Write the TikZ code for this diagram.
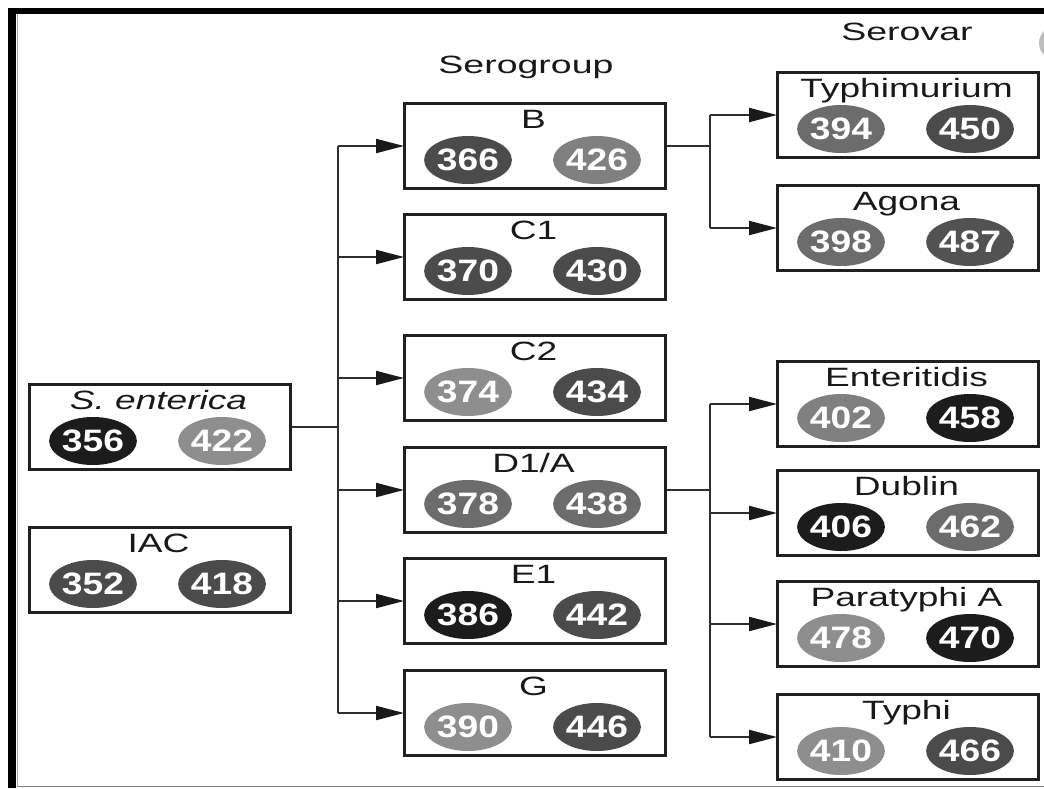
\documentclass[tikz,border=0pt]{standalone}
\usepackage{fontspec}
\setmainfont{Liberation Sans}
\newfontfamily\lblfont[FakeStretch=1.4]{Liberation Sans}
\newfontfamily\hdrfont[FakeStretch=1.5]{Liberation Sans}
\newfontfamily\numfont[FakeStretch=1.2]{Liberation Sans}
\usetikzlibrary{arrows.meta,shapes.geometric}
\definecolor{cA}{HTML}{1C1C1C}
\definecolor{cB}{HTML}{4B4B4B}
\definecolor{cC}{HTML}{6C6C6C}
\definecolor{cD}{HTML}{8E8E8E}
\definecolor{edge}{HTML}{202020}
\definecolor{wire}{HTML}{2E2E2E}
\tikzset{
  boxst/.style={draw=edge, line width=3pt, minimum width=261pt, minimum height=85pt, inner sep=0pt, anchor=north west},
  lbl/.style={font=\lblfont\fontsize{26.5}{27}\selectfont, text=black!90, anchor=base, inner sep=0pt},
  hdr/.style={font=\hdrfont\fontsize{25}{26}\selectfont, text=black!90, anchor=base, inner sep=0pt},
  blob/.style={ellipse, fill=#1, minimum width=75pt, minimum height=48pt, inner sep=0pt, text=white,
    font=\numfont\bfseries\fontsize{31}{31}\selectfont},
  conn/.style={draw=wire, line width=2pt},
  arr/.style={conn, -{Triangle[length=28pt,width=14pt,fill=black!90,color=black!90]}, shorten >=-1pt}
}
\newcommand\gbox[8]{%
  \node[boxst] (#1) at (#2,#3) {};
  \node[lbl] (#1-l) at ({#2+130.5},{#3+26}) {#4};
  \node[blob=#6] (#1-a) at ({#2+65},{#3+58}) {#5};
  \node[blob=#8] (#1-b) at ({#2+194},{#3+58}) {#7};
}
\begin{document}
\begin{tikzpicture}[x=1pt,y=-1pt]
\useasboundingbox (0,0) rectangle (1044,788);
\fill[white] (0,0) rectangle (1044,788);
% frame
\fill[black] (8,8) rectangle (16,788);
\fill[black] (8,8) rectangle (1044,13.5);
\draw[gray!70, line width=1pt] (17,14) -- (17,786);
\draw[gray, line width=1pt] (17,786.5) -- (1044,786.5);
\begin{scope}
\clip (0,0) rectangle (1044,788);
\fill[gray!50] (1056,43) circle (17);
\end{scope}
% headers
\node[hdr] (hsg) at (526,73) {Serogroup};
\node[hdr] (hsv) at (907,40) {Serovar};
% left boxes
\gbox{sent}{28}{383}{\itshape S. enterica}{356}{cA}{422}{cD}
\gbox{iac}{28}{526}{IAC}{352}{cB}{418}{cB}
% serogroups
\gbox{B}{403}{102}{B}{366}{cB}{426}{cD!90!black}
\gbox{C1}{403}{213}{C1}{370}{cB}{430}{cB}
\gbox{C2}{403}{334}{C2}{374}{cD}{434}{cB}
\gbox{D}{403}{446}{D1/A}{378}{cC}{438}{cC}
\gbox{E1}{403}{557}{E1}{386}{cA}{442}{cB}
\gbox{G}{403}{669}{G}{390}{cD}{446}{cB}
% serovars
\gbox{Ty}{776}{71}{Typhimurium}{394}{cC}{450}{cB}
\gbox{Ag}{776}{184}{Agona}{398}{cC}{487}{cB!80!cC}
\gbox{En}{776}{360}{Enteritidis}{402}{cD!90!black}{458}{cA}
\gbox{Du}{776}{469}{Dublin}{406}{cA}{462}{cC}
\gbox{Pa}{776}{580}{Paratyphi A}{478}{cD}{470}{cA}
\gbox{Tp}{776}{693}{Typhi}{410}{cD}{466}{cB}
% connectors
\coordinate (t1) at (338,0);
\coordinate (t2) at (710,0);
\draw[conn] (sent.east) -- (sent.east -| t1);
\draw[conn] (t1 |- B.west) -- (t1 |- G.west);
\foreach \n in {B,C1,C2,D,E1,G} \draw[arr] (t1 |- \n.west) -- (\n.west);
\draw[conn] (B.east) -- (B.east -| t2);
\draw[conn] (t2 |- Ty.west) -- (t2 |- Ag.west);
\foreach \n in {Ty,Ag} \draw[arr] (t2 |- \n.west) -- (\n.west);
\draw[conn] (D.east) -- (D.east -| t2);
\draw[conn] (t2 |- En.west) -- (t2 |- Tp.west);
\foreach \n in {En,Du,Pa,Tp} \draw[arr] (t2 |- \n.west) -- (\n.west);
\end{tikzpicture}
\end{document}
